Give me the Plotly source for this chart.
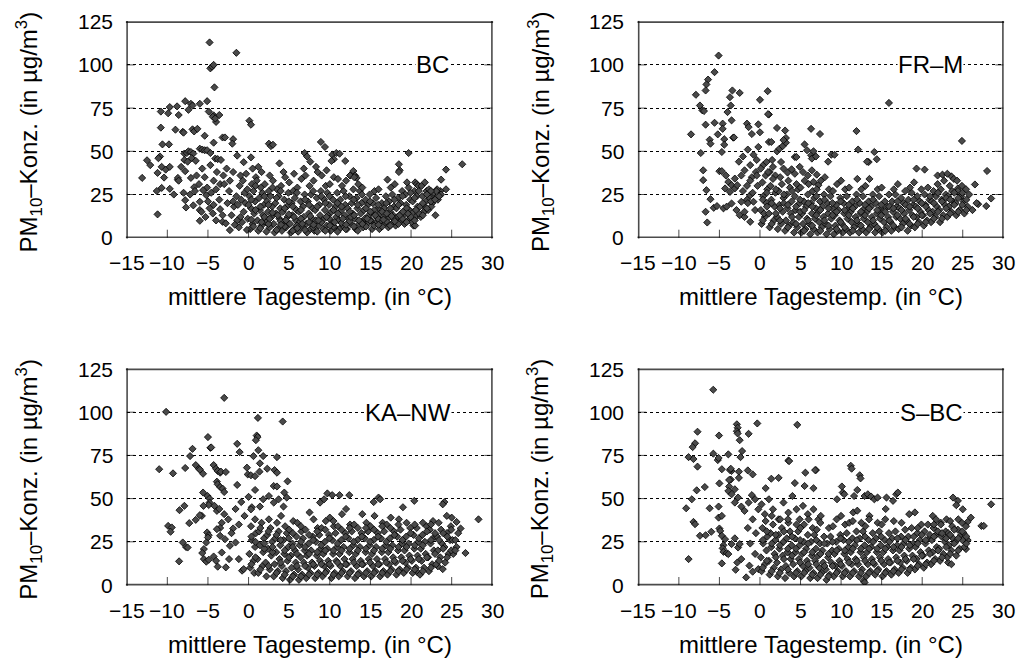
import plotly.graph_objects as go

# ---------------- data (temperature in °C, PM10 in µg/m3) ----------------
BC_POINTS = [
    (-4.8,113),(-1.5,107),(-4.7,98),(-4.5,99),(-4.3,100),(-4.2,87),
    (-7.8,79),(-9.7,75.6),(-8.8,76),(-10.8,73),(-9.9,72),(-8.6,71),(-7.4,74),(-7.1,77.5),(-6.9,76.5),(-6.0,77.5),
    (-5.1,79),(-4.9,73),(-4.3,70.8),(-4.4,70),(-4.0,67),(-4.1,69),(-3.6,71),
    (-10.8,63.7),(-9.0,62.5),(-8.1,61.3),(-8.0,60.8),(-6.9,62.7),(-6.7,61.5),(-6.3,63),(-5.4,59),(-4.3,55),(-3.2,58),
    (-2.9,58),(-1.9,57),(-2.0,54.4),(0.1,67.7),(0.3,65.4),(2.5,54.4),(2.75,53),(3.0,53.8),
    (-10.6,54),(-9.8,54),(-12.5,44.8),(-12.1,42),(-13.1,34.6),(-10.9,47),(-11.1,46),(-10.7,41),(-11.2,37.5),(-10.4,34.8),
    (-10.2,39.4),(-9.7,41),(-11.3,27),(-10.7,28.8),(-9.7,28.3),(-11.2,13.5),(-8.7,33.6),(-8.7,34.6),(-7.9,48.7),(-7.6,49),
    (-7.4,50),(-7.1,49.6),(-6.8,48.7),
    (-8.6,33),(-7.8,38.5),(-8.3,41),(-7.1,34.6),(-6.7,29.2),(-6.4,36),(-6.1,31),(-5.7,40),(-5.4,35),(-5.1,29),
    (-4.7,42),(-4.3,33),(-3.9,38),(-3.5,31),(-3.1,36),(-2.7,40),(-2.3,33),(-1.9,38),(-1.4,47.5),(-1.0,36),
    (-0.6,43.7),(0.3,46.5),(-7.9,45),(-7.5,44),(-7.0,46),(-6.5,44.5),(-6.0,51.5),(-5.7,51),(-5.4,50.6),(-5.1,50.6),
    (-4.7,49),(-4.1,45.8),(-3.8,45.5),(-3.4,45),
    (-7.8,21.7),(-7.7,17.5),(-7.2,25),(-6.0,20.8),(-6.0,16),(-5.8,15),(-6.0,9.8),(-5.2,24.6),(-4.8,17),(-4.4,14),
    (-4.0,10),(-3.2,13),(-3.2,9.2),(-2.3,4.4),(-2.8,8.3),(-9.2,25),(-8.0,26),(-6.6,27),(-5.6,27.5),(-4.6,26),
    (-4.0,28),(-3.6,22),(-3.0,31),(-2.6,20),(-2.4,27),(-5.0,21),(-4.3,19),(-3.5,16.5),(-6.8,18.7),(-5.3,12),
    (-2.1,13),(-1.8,18),(-1.5,24),
    (8.9,55.4),(9.4,52.5),(6.9,49),(10.3,48),(10.8,49),(11.2,48.6),(10.5,45.4),(10.2,44.4),(11.9,44.4),(19.7,49),
    (18.5,42.5),(18.6,39),(18.5,38),(26.3,42.5),(24.3,39.4),(23.7,33.6),(24.3,28),(23.6,27),(23.0,13),(22.6,24.6),
    (21.8,17.3),(21.6,15),(20.3,7),(23.2,28),(20.5,32),(20.7,31),(20.9,30),(17.1,33.6),(12.9,38.6),(13.1,36),
    (12.5,36),(13.3,34.6),
    (-1.2,6),(-0.8,9),(-1.0,12),(-0.6,15),(-1.3,19),(-0.9,22),(-0.5,26),(-1.1,30),(-0.7,33),(-0.3,37),(-1.4,10),(-0.4,20),
    (0.2,5),(0.5,8),(-0.1,11),(0.7,14),(0.3,17),(0.8,21),(0.1,24),(0.6,27),(0.4,31),(0.9,35),(0.0,19),(0.5,40),
    (1.2,4),(1.6,7),(1.1,10),(1.8,13),(1.4,16),(1.9,19),(1.3,23),(1.7,26),(1.5,29),(1.0,33),(1.6,38),(1.2,41),
    (2.2,3.5),(2.6,6),(2.1,9),(2.8,12),(2.4,15),(2.9,18),(2.3,21),(2.7,24),(2.5,27),(2.0,31),(2.6,36),
    (3.2,3),(3.6,5),(3.1,8),(3.8,11),(3.4,14),(3.9,17),(3.3,20),(3.7,24),(3.5,28),(3.0,33),(3.8,43),
    (4.1,4),(4.6,6),(4.3,9),(4.8,12),(4.2,15),(4.7,18),(4.4,22),(4.9,26),(4.0,30),(4.5,35),(4.3,38),
    (5.2,3),(5.6,5),(5.1,8),(5.8,10),(5.4,13),(5.9,16),(5.3,20),(5.7,23),(5.5,27),(5.0,32),(5.6,37),
    (6.1,3.5),(6.6,6),(6.3,9),(6.8,12),(6.2,15),(6.7,18),(6.4,21),(6.9,25),(6.0,29),(6.5,34),(6.8,40),
    (7.2,3),(7.6,5),(7.1,8),(7.8,11),(7.4,14),(7.9,17),(7.3,21),(7.7,25),(7.5,30),(7.0,36),(7.2,47),(7.6,44),
    (8.1,4),(8.6,7),(8.3,10),(8.8,13),(8.2,16),(8.7,19),(8.4,23),(8.9,27),(8.0,33),(8.5,38),(8.3,41),
    (9.2,5),(9.6,7),(9.1,10),(9.8,13),(9.4,16),(9.9,19),(9.3,22),(9.7,26),(9.5,30),(9.0,36),(9.6,39),
    (10.1,4),(10.6,6),(10.3,9),(10.8,12),(10.2,15),(10.7,18),(10.4,22),(10.9,26),(10.0,31),(10.5,35),
    (11.2,5),(11.6,7),(11.1,10),(11.8,13),(11.4,16),(11.9,19),(11.3,22),(11.7,27),(11.5,30),(11.0,34),
    (12.1,5),(12.6,8),(12.3,11),(12.8,14),(12.2,17),(12.7,20),(12.4,24),(12.9,28),(12.0,33),(12.5,36),
    (13.2,5),(13.6,8),(13.1,11),(13.8,14),(13.4,17),(13.9,20),(13.3,23),(13.7,27),(13.5,31),(13.0,35),
    (14.1,6),(14.6,8),(14.3,11),(14.8,13),(14.2,16),(14.7,19),(14.4,22),(14.9,25),(14.0,29),
    (15.2,5),(15.6,8),(15.1,10),(15.8,12),(15.4,14),(15.9,17),(15.3,20),(15.7,23),(15.5,27),
    (16.1,5),(16.6,8),(16.3,10),(16.8,12),(16.2,14),(16.7,17),(16.4,20),(16.9,24),(16.0,28),
    (17.2,6),(17.6,8),(17.1,11),(17.8,13),(17.4,15),(17.9,18),(17.3,21),(17.7,25),(17.5,29),
    (18.1,7),(18.6,9),(18.3,12),(18.8,14),(18.2,17),(18.7,20),(18.4,23),(18.9,27),(18.0,31),
    (19.2,8),(19.6,10),(19.1,13),(19.8,16),(19.4,19),(19.9,22),(19.3,25),(19.7,29),(19.5,32),
    (20.1,9),(20.6,12),(20.3,15),(20.8,18),(20.2,21),(20.7,24),(20.4,27),(20.9,30),(20.5,7),
    (21.2,12),(21.6,15),(21.1,18),(21.8,21),(21.4,24),(21.9,27),(21.3,30),(21.7,32),
    (22.1,16),(22.6,20),(22.3,23),(22.8,26),(22.2,28),(22.5,18),
    (23.3,22),(23.7,25),(23.1,27),
    (-1.7,7.5),(-0.2,4.5),(0.35,10.5),(0.85,16),(1.45,5.5),(1.95,12),(2.45,8),(2.95,14.5),(3.45,4.5),(3.95,9.5),
    (4.45,6.5),(4.95,13.5),(5.45,4),(5.95,7),(6.45,11),(6.95,4.5),(7.45,9),(7.95,6),(8.45,3.5),(8.95,9),
    (9.45,4),(9.95,11),(10.45,6.5),(10.95,3.5),(11.45,8.5),(11.95,5),(12.45,9.5),(12.95,6.5),(13.45,4),(13.95,9),
    (14.45,6.5),(14.95,10),(15.45,7),(15.95,11),(16.45,6.5),(16.95,9.5),(17.45,7),(17.95,10.5),(18.45,8),(18.95,11),
    (19.45,9),(19.95,12),(20.45,10),(20.95,14),(21.45,13),(21.95,17),(22.45,21),
    (-1.9,21),(-0.15,28),(0.35,22),(0.85,30),(1.45,18),(1.95,24),(2.45,19),(2.95,29),(3.45,23),(3.95,27),
    (4.45,17),(4.95,21),(5.45,18),(5.95,26),(6.45,16),(6.95,22),(7.45,19),(7.95,27),(8.45,18),(8.95,24),
    (9.45,20),(9.95,24),(10.45,16),(10.95,20),(11.45,18),(11.95,24),(12.45,15),(12.95,22),(13.45,19),(13.95,25),
    (14.45,17),(14.95,21),(15.45,16),(15.95,19),(16.45,15),(16.95,20),(17.45,17),(17.95,22),(18.45,19),(18.95,24),
    (19.45,17),(19.95,26),(20.45,23),(20.95,27),(21.45,20),(21.95,25),(22.45,27),(23.45,24),(22.95,22),
    (0.6,6.5),(1.6,9),(2.6,11),(3.6,13),(4.6,10),(5.6,12),(6.6,8),(7.6,12.5),(8.6,10),(9.6,12),
    (10.6,9),(11.6,11),(12.6,12),(13.6,10),(14.6,11),(15.6,13),(16.6,10.5),(17.6,12.5),(18.6,13),(19.6,14),
    (20.6,16),(4.0,7.5),(6.0,5.5),(8.0,7.5),(10.0,7),(12.0,7.5),(14.0,8),(16.0,7.5),(18.0,9.5),(11.0,14),
    (13.0,13),(15.0,15),(17.0,14),(19.0,15),
]

FRM_POINTS = [
    (-5.1,105.4),(-5.6,95.8),(-6.4,91.5),(-6.6,88.7),(-6.7,85.2),(-7.9,82.7),(-7.4,76.5),(-7.1,73.7),(-6.9,73.3),(-8.5,59.8),
    (-7.3,49),(-6.7,65.4),(-6.2,56.7),(-6.1,54.4),(-5.6,66.5),(-5.2,59.8),(-3.4,85.2),(-3.7,81.3),(-3.6,76.5),(-4.0,72.7),
    (-3.5,67.9),(-2.5,83.8),(-3.3,57.9),(-3.2,58),(-4.6,66),(-4.6,63),(-4.4,57),(0.0,79.8),(0.95,84.8),(1.1,71.3),
    (1.0,71.5),(-1.6,66),(-1.4,64),(-1.0,60),(-0.2,65.6),(0.0,61),(2.1,63.5),(3.1,62),(3.2,57.7),(6.3,63),
    (7.4,60),(1.1,55.4),(1.4,55.4),(2.1,50),(2.4,51.5),(2.8,53),(3.2,55),(2.9,56.5),(4.3,46.7),(4.5,46.7),
    (5.5,54),(5.8,50.6),(6.3,47.7),(6.4,45.8),(6.6,50),(6.9,47),(-7.0,39),(-7.0,33.3),(-6.6,27.5),(-6.1,22.3),
    (-5.7,17.3),(-5.3,18.3),(-6.7,15),(-6.5,8.8),(-5.0,38.5),(-4.7,49.6),(-4.4,53.8),
    (15.9,78),(11.9,61.7),(12.1,51),(14.1,49.6),(14.4,45.4),(13.4,43.8),(13.2,44),(24.9,56),(28.0,38.6),(28.5,22.7),
    (26.5,30.8),(27.9,18.3),(26.9,19.4),(24.4,28.5),(19.3,40),(20.3,39.4),(8.8,48),(9.2,48),(8.4,44),(21.9,36),
    (22.5,36.5),(23.6,35.5),(23.1,37),
    (-4.7,38.5),(-4.2,36),(-3.9,32.3),(-3.5,30.4),(-3.1,34.2),(-4.5,17),(-4.1,18),(-3.5,19.8),(-2.9,16),(-2.5,13),
    (-1.9,12),(-4.3,28.5),(-3.7,26.5),(-3.1,28.5),(-2.8,30.4),(-2.6,44),(-2.3,36),(-2.1,47),(-1.9,39),(-1.5,51),
    (-1.2,42),(-0.8,48),(-0.5,38),(-0.2,52.5),(-0.4,45),(-1.0,35),(-1.6,30),(-2.1,27),(-1.6,22),(-1.2,24.6),
    (-0.8,20.8),(-0.6,16),(-1.2,9.2),(-1.9,15),(-2.3,20.8),
    (0.4,42),(0.8,43.8),(1.2,38),(1.6,41),(1.9,36),(2.6,43.8),(2.9,40),(3.4,37.7),(3.9,39.6),(4.3,37),
    (4.9,41),(5.3,38),(5.9,36),(6.4,39),(7.0,36.5),(6.6,32.3),(7.2,30.4),
    (0.2,8),(0.6,12),(0.1,16),(0.8,20),(0.4,24),(0.9,28),(0.3,32),(0.7,36),(0.5,14),
    (1.2,6),(1.7,10),(1.1,14),(1.8,18),(1.4,22),(1.9,26),(1.3,30),(1.6,34),
    (2.2,5),(2.6,8),(2.1,12),(2.8,15),(2.4,19),(2.9,23),(2.3,27),(2.7,31),(2.5,35),
    (3.1,4),(3.6,7),(3.2,10),(3.8,14),(3.4,17),(3.9,21),(3.3,25),(3.7,29),(3.5,33),
    (4.2,3),(4.6,6),(4.1,9),(4.8,12),(4.4,16),(4.9,20),(4.3,24),(4.7,28),(4.5,31),
    (5.1,3),(5.6,5),(5.3,8),(5.8,11),(5.2,14),(5.7,18),(5.4,21),(5.9,25),(5.0,29),(5.5,33),
    (6.2,2),(6.6,5),(6.1,8),(6.8,11),(6.4,14),(6.9,17),(6.3,20),(6.7,23),(6.5,27),(6.0,31),
    (7.1,3),(7.6,6),(7.3,9),(7.8,12),(7.2,15),(7.7,18),(7.4,21),(7.9,25),(7.0,28),(7.5,33),
    (8.2,2),(8.6,5),(8.1,8),(8.8,11),(8.4,14),(8.9,17),(8.3,20),(8.7,24),(8.5,28),(8.0,35),
    (9.1,2),(9.6,4),(9.3,7),(9.8,10),(9.2,13),(9.7,16),(9.4,19),(9.9,23),(9.0,27),(9.5,31),
    (10.2,3),(10.6,5),(10.1,8),(10.8,11),(10.4,14),(10.9,17),(10.3,20),(10.7,24),(10.5,28),(10.0,33),
    (11.1,3),(11.6,6),(11.3,9),(11.8,12),(11.2,15),(11.7,18),(11.4,21),(11.9,25),(11.0,29),
    (12.2,3),(12.6,5),(12.1,8),(12.8,11),(12.4,14),(12.9,17),(12.3,20),(12.7,24),(12.5,28),(12.0,34),
    (13.1,3),(13.6,6),(13.3,9),(13.8,12),(13.2,15),(13.7,18),(13.4,21),(13.9,25),(13.0,30),(13.5,34),
    (14.2,3),(14.6,5),(14.1,8),(14.8,11),(14.4,14),(14.9,17),(14.3,20),(14.7,24),(14.5,28),
    (15.1,3),(15.6,6),(15.3,9),(15.8,12),(15.2,15),(15.7,18),(15.4,21),(15.9,25),(15.0,29),
    (16.2,4),(16.6,6),(16.1,9),(16.8,12),(16.4,15),(16.9,18),(16.3,21),(16.7,25),(16.5,28),
    (17.1,5),(17.6,8),(17.3,11),(17.8,14),(17.2,17),(17.7,20),(17.4,23),(17.9,27),(17.0,31),
    (18.2,4),(18.6,7),(18.1,10),(18.8,13),(18.4,16),(18.9,19),(18.3,22),(18.7,26),(18.5,29),
    (19.1,6),(19.6,9),(19.3,12),(19.8,15),(19.2,18),(19.7,21),(19.4,24),(19.9,28),(19.0,32),
    (20.2,7),(20.6,10),(20.1,13),(20.8,16),(20.4,19),(20.9,22),(20.3,25),(20.7,29),
    (21.1,9),(21.6,12),(21.3,15),(21.8,18),(21.2,21),(21.7,24),(21.4,27),(21.9,31),
    (22.2,9),(22.6,13),(22.1,16),(22.8,19),(22.4,22),(22.9,25),(22.3,28),(22.7,33),
    (23.1,12),(23.6,15),(23.3,18),(23.8,21),(23.2,24),(23.7,27),(23.4,30),(23.9,34),
    (24.2,13),(24.6,16),(24.1,20),(24.8,24),(24.4,27),(24.9,30),(24.3,33),
    (25.2,14),(25.6,18),(25.1,21),(25.8,25),(25.4,28),
    (26.2,16),(26.7,20),
    (0.35,10),(0.85,18),(1.45,8),(1.95,14),(2.45,10),(2.95,20),(3.45,6),(3.95,12),(4.45,8),(4.95,15),
    (5.45,4),(5.95,10),(6.45,7),(6.95,13),(7.45,4),(7.95,10),(8.45,7),(8.95,13),(9.45,5),(9.95,9),
    (10.45,6),(10.95,13),(11.45,4),(11.95,10),(12.45,7),(12.95,13),(13.45,5),(13.95,10),(14.45,6),(14.95,13),
    (15.45,4),(15.95,10),(16.45,7),(16.95,13),(17.45,6),(17.95,11),(18.45,8),(18.95,12),(19.45,8),(19.95,13),
    (20.45,9),(20.95,14),(21.45,11),(21.95,15),(22.45,11),(22.95,17),(23.45,14),(23.95,19),(24.45,15),(24.95,19),
    (25.45,16),
    (0.35,22),(0.85,26),(1.45,20),(1.95,28),(2.45,17),(2.95,25),(3.45,19),(3.95,27),(4.45,18),(4.95,22),
    (5.45,16),(5.95,20),(6.45,18),(6.95,24),(7.45,16),(7.95,22),(8.45,17),(8.95,20),(9.45,15),(9.95,21),
    (10.45,16),(10.95,19),(11.45,17),(11.95,22),(12.45,15),(12.95,19),(13.45,17),(13.95,22),(14.45,16),(14.95,19),
    (15.45,15),(15.95,18),(16.45,17),(16.95,21),(17.45,16),(17.95,19),(18.45,18),(18.95,22),(19.45,17),(19.95,20),
    (20.45,18),(20.95,24),(21.45,20),(21.95,26),(22.45,21),(22.95,23),(23.45,22),(23.95,26),(24.45,23),(24.95,26),
    (25.45,22),
    (-1.5,20),(-0.9,26),(-0.3,30),(-1.2,33),(-0.4,36),(0.1,40),(1.5,45),(1.0,38),
]

KANW_POINTS = [
    (-3.0,108.3),(-10.15,100.2),(1.15,96.7),(4.2,94.6),(-5.0,85.6),(-4.7,79.4),(-4.6,79.6),(-6.9,78.8),(-7.2,74.6),(-1.4,81.7),
    (-1.1,76.9),(1.0,86.5),(1.1,85.6),(0.9,83.8),(1.2,78),(1.8,74.6),(0.6,74.6),(3.5,74),(-11.0,67),(-9.3,64.6),
    (-7.8,67.7),(-6.5,69.4),(-6.1,67.3),(-6.0,66.8),(-5.6,64.4),(-4.3,69.4),(-4.0,67.3),(-3.8,66),(-3.5,65),(-3.4,65.6),
    (-2.8,65.4),(-3.9,59.8),(-3.8,58.3),(-3.5,56.7),(-3.2,55.8),(-3.0,53.8),(-1.4,57.9),(-0.2,67.9),(-0.1,64),(0.3,63.5),
    (0.8,63),(1.4,70.4),(1.35,65.6),(2.3,67.3),(3.2,66.5),(3.5,65),(3.1,57.3),(3.5,57),(4.8,60),(-9.9,34.2),
    (-9.45,33.3),(-9.6,30.8),(-8.5,43.3),(-7.9,45.8),(-8.1,24.6),(-7.7,22),(-7.5,21.7),(-8.55,13.7),(-5.6,53.5),(-5.05,51.5),
    (-4.8,50),(-4.8,47.7),(-4.9,46.3),(-5.75,40),(-6.0,40.4),(-6.5,37.7),(-7.3,35.8),(-5.1,30.4),(-4.9,28.8),(-5.0,27.5),
    (-5.2,24.6),(-5.5,20.8),(-5.7,18.5),(-5.5,15),(-5.2,13.5),(-4.9,14.6),
    (9.7,53),(10.3,52),(11.2,52),(12.4,52),(9.3,49.6),(8.8,47.7),(16.0,50.6),(16.2,49.6),(15.4,48),(20.4,48.7),
    (24.1,48),(23.9,46.7),(28.3,38),(26.7,18.5),(26.1,32.7),(25.6,36.5),(25.0,39),(24.4,40),(23.3,10.8),(23.9,9.2),
    (20.8,7.3),
    (-4.3,16.5),(-4.0,14),(-3.8,10.6),(-2.8,10.2),(-3.3,18.8),(-2.4,15),(-2.3,22.7),(-1.9,32.7),(-1.2,15),(-0.8,8.3),
    (-0.6,9.2),(-4.2,45.8),(-3.9,42.9),(-3.6,44),(-3.3,36),(-3.0,41),(-3.5,33),(-3.9,32.3),(-3.5,28.5),(-2.9,26.5),
    (-2.5,38),(-2.1,30),(-1.6,44),(-1.2,35),(-0.9,48),(-0.5,40),(0.0,51),(0.4,45),(0.8,55),(0.3,43.8),
    (0.8,38),(1.4,45.4),(1.8,49.6),(2.5,51.5),(3.1,47.7),(3.7,49.6),(4.3,45.4),(4.7,50.6),(4.4,53.5),(-1.6,24.6),
    (-5.55,45.8),
    (0.2,10),(0.6,14),(0.1,18),(0.8,22),(0.4,26),(0.9,30),(0.3,34),(0.7,7),
    (1.2,7),(1.7,11),(1.1,15),(1.8,19),(1.4,23),(1.9,27),(1.3,31),(1.6,36),
    (2.2,5),(2.6,9),(2.1,13),(2.8,17),(2.4,21),(2.9,25),(2.3,29),(2.7,33),(2.5,38),
    (3.1,5),(3.6,8),(3.2,12),(3.8,15),(3.4,19),(3.9,23),(3.3,27),(3.7,31),(3.5,36),
    (4.2,4),(4.6,8),(4.1,11),(4.8,14),(4.4,18),(4.9,22),(4.3,26),(4.7,30),(4.5,34),(4.0,40),
    (5.1,3),(5.6,6),(5.3,10),(5.8,13),(5.2,17),(5.7,20),(5.4,24),(5.9,28),(5.0,32),(5.5,37),
    (6.2,3),(6.6,6),(6.1,9),(6.8,13),(6.4,16),(6.9,20),(6.3,23),(6.7,27),(6.5,31),(6.0,36),
    (7.1,4),(7.6,7),(7.3,10),(7.8,13),(7.2,17),(7.7,20),(7.4,24),(7.9,28),(7.0,32),(7.5,42),
    (8.2,4),(8.6,7),(8.1,11),(8.8,14),(8.4,17),(8.9,21),(8.3,25),(8.7,29),(8.5,33),(8.0,38),
    (9.1,5),(9.6,8),(9.3,11),(9.8,14),(9.2,18),(9.7,21),(9.4,25),(9.9,29),(9.0,33),(9.5,37),
    (10.2,4),(10.6,7),(10.1,11),(10.8,14),(10.4,18),(10.9,22),(10.3,26),(10.7,30),(10.5,34),(10.0,39),
    (11.1,5),(11.6,8),(11.3,11),(11.8,15),(11.2,18),(11.7,22),(11.4,26),(11.9,30),(11.0,34),(11.5,41),
    (12.2,5),(12.6,8),(12.1,12),(12.8,15),(12.4,19),(12.9,23),(12.3,27),(12.7,31),(12.5,35),(12.0,44),
    (13.1,4),(13.6,7),(13.3,11),(13.8,14),(13.2,18),(13.7,22),(13.4,26),(13.9,30),(13.0,35),
    (14.2,5),(14.6,8),(14.1,12),(14.8,15),(14.4,19),(14.9,23),(14.3,27),(14.7,31),(14.5,36),(14.0,41),
    (15.1,5),(15.6,8),(15.3,11),(15.8,15),(15.2,18),(15.7,22),(15.4,26),(15.9,30),(15.0,34),(15.5,40),
    (16.2,5),(16.6,8),(16.1,12),(16.8,15),(16.4,19),(16.9,23),(16.3,27),(16.7,31),(16.5,36),
    (17.1,6),(17.6,9),(17.3,12),(17.8,16),(17.2,19),(17.7,23),(17.4,27),(17.9,31),(17.0,35),(17.5,39),
    (18.2,6),(18.6,9),(18.1,13),(18.8,16),(18.4,20),(18.9,24),(18.3,28),(18.7,32),(18.5,38),
    (19.1,7),(19.6,10),(19.3,13),(19.8,17),(19.2,20),(19.7,24),(19.4,28),(19.9,33),(19.0,45),
    (20.2,7),(20.6,10),(20.1,14),(20.8,17),(20.4,21),(20.9,25),(20.3,29),(20.7,33),
    (21.1,6),(21.6,10),(21.3,14),(21.8,18),(21.2,21),(21.7,25),(21.4,29),(21.9,34),
    (22.2,8),(22.6,12),(22.1,16),(22.8,20),(22.4,24),(22.9,28),(22.3,32),(22.7,37),
    (23.1,12),(23.6,16),(23.3,20),(23.8,24),(23.2,28),(23.7,32),(23.4,36),
    (24.2,13),(24.6,18),(24.1,22),(24.8,26),(24.4,30),(24.9,34),
    (25.2,18),(25.6,22),(25.1,26),(25.8,30),
    (0.35,12),(0.85,16),(1.45,9),(1.95,21),(2.45,11),(2.95,19),(3.45,7),(3.95,13),(4.45,6),(4.95,16),
    (5.45,5),(5.95,11),(6.45,5),(6.95,11),(7.45,6),(7.95,12),(8.45,6),(8.95,12),(9.45,7),(9.95,12),
    (10.45,6),(10.95,13),(11.45,7),(11.95,12),(12.45,7),(12.95,13),(13.45,6),(13.95,12),(14.45,7),(14.95,13),
    (15.45,7),(15.95,12),(16.45,7),(16.95,13),(17.45,8),(17.95,14),(18.45,8),(18.95,14),(19.45,9),(19.95,15),
    (20.45,9),(20.95,15),(21.45,8),(21.95,16),(22.45,10),(22.95,18),(23.45,14),(23.95,21),(24.45,16),(24.95,20),
    (25.45,20),
    (0.35,28),(0.85,25),(1.45,33),(1.95,24),(2.45,31),(2.95,22),(3.45,29),(3.95,26),(4.45,20),(4.95,27),
    (5.45,22),(5.95,18),(6.45,25),(6.95,22),(7.45,18),(7.95,26),(8.45,19),(8.95,23),(9.45,20),(9.95,27),
    (10.45,20),(10.95,24),(11.45,20),(11.95,28),(12.45,21),(12.95,25),(13.45,20),(13.95,28),(14.45,21),(14.95,25),
    (15.45,20),(15.95,28),(16.45,21),(16.95,25),(17.45,21),(17.95,29),(18.45,22),(18.95,26),(19.45,22),(19.95,30),
    (20.45,23),(20.95,27),(21.45,23),(21.95,31),(22.45,26),(22.95,30),(23.45,26),(23.95,30),(24.45,28),(24.95,32),
    (25.45,26),
    (5.45,30),(6.45,34),(7.45,29),(8.45,31),(9.45,32),(10.45,37),(11.45,32),(12.45,33),(13.45,33),(14.45,33),
    (15.45,32),(16.45,34),(17.45,33),(18.45,35),(19.45,36),(20.45,35),(21.45,36),(22.45,35),
]

SBC_POINTS = [
    (-5.76,113),(-0.33,93.5),(4.6,92.7),(-2.85,93),(-2.75,91),(-2.85,89),(-2.75,87.7),(-2.5,83.8),(-7.7,88.7),(-5.05,86.5),
    (-1.4,87.5),(-8.0,82),(-8.3,79.8),(-8.8,74),(-8.2,72.9),(-7.7,68.5),(-5.75,76),(-5.2,72.3),(-5.1,73.5),(-3.9,75.6),
    (-2.2,77.5),(-2.4,74),(-3.5,66),(-3.7,66.5),(-4.7,67),(-3.6,67.3),(-3.6,61),(-3.8,60.8),(-5.0,58.8),(-3.8,57),
    (-3.1,55.4),(-2.6,65.6),(-2.6,62),(-1.5,66.3),(-0.9,64),(-9.1,44.4),(-8.4,49.6),(-7.8,54.8),(-6.8,56.7),(-8.2,36.5),
    (-8.0,35.2),(-7.4,28.5),(-6.7,28.8),(-6.0,30.8),(-8.8,15),(0.7,56),(1.4,61.5),(2.3,62),(3.5,72),(3.6,71.7),
    (5.6,65),(6.9,66.5),(4.3,59),(5.5,57.3),(6.6,56),
    (11.2,69),(11.3,67.3),(12.3,63.5),(12.4,61.7),(6.8,66.5),(10.1,57),(12.0,55),(23.8,50.6),(24.4,48.7),(24.2,46.2),
    (25.0,43.8),(28.5,46.7),(27.3,34.2),(27.6,34.2),(26.0,39),(25.6,36.5),(23.2,13),(23.6,12),(25.4,20.8),(12.75,2.5),
    (12.9,1.5),
    (-6.2,44.4),(-5.1,45.4),(-5.1,39),(-4.7,40),(-5.0,32.7),(-4.9,31.3),(-4.7,28.5),(-4.3,26.5),(-4.5,23),(-4.6,21.2),
    (-4.5,19.2),(-4.1,18.5),(-3.9,17.9),(-3.5,23.7),(-3.1,27),(-2.7,21.7),(-2.5,23.7),(-2.8,13),(-4.7,12.5),(-3.0,8.8),
    (-1.7,4.4),(-2.3,15),(-1.3,11.2),(-0.9,7.7),(-0.2,9.2),
    (-3.9,54.4),(-3.5,52.5),(-3.1,47.7),(-2.7,50.6),(-2.3,45.4),(-1.9,42.9),(-1.4,47.7),(-1.0,52),(-0.6,49.6),(-0.2,43.8),
    (0.2,46.7),(0.6,41),(1.1,49.6),(1.6,43.8),(2.3,38),(2.9,47.7),(3.5,41.9),(4.0,51.5),(4.5,43.8),(4.9,38),
    (5.3,45.8),(5.9,41),(6.6,43.8),(7.2,38),
    (10.2,53.5),(10.4,52.5),(9.5,49.6),(11.6,51.5),(12.9,51.5),(13.3,52.5),(13.7,51.2),(14.1,49.6),(15.6,50.6),(16.4,48.7),
    (16.8,52.5),(17.0,53.5),(14.5,50.6),(18.4,41),(19.1,42),(21.3,40),(21.7,38),(22.3,36),(23.0,38),
    (0.2,8),(0.6,12),(0.1,16),(0.8,20),(0.4,24),(0.9,28),(0.3,33),(0.7,37),
    (1.2,6),(1.7,10),(1.1,14),(1.8,18),(1.4,22),(1.9,26),(1.3,30),(1.6,35),
    (2.2,5),(2.6,9),(2.1,13),(2.8,17),(2.4,21),(2.9,25),(2.3,29),(2.7,33),(2.5,38),
    (3.1,4),(3.6,7),(3.2,11),(3.8,15),(3.4,19),(3.9,23),(3.3,27),(3.7,31),(3.5,36),
    (4.2,5),(4.6,8),(4.1,12),(4.8,15),(4.4,19),(4.9,23),(4.3,27),(4.7,31),(4.5,35),
    (5.1,5),(5.6,8),(5.3,11),(5.8,14),(5.2,18),(5.7,21),(5.4,25),(5.9,29),(5.0,33),
    (6.2,4),(6.6,7),(6.1,10),(6.8,14),(6.4,17),(6.9,21),(6.3,25),(6.7,29),(6.5,33),(6.0,38),
    (7.1,4),(7.6,7),(7.3,10),(7.8,13),(7.2,17),(7.7,20),(7.4,24),(7.9,28),(7.0,32),(7.5,40),
    (8.2,3),(8.6,6),(8.1,9),(8.8,13),(8.4,16),(8.9,20),(8.3,24),(8.7,28),(8.5,33),
    (9.1,5),(9.6,8),(9.3,11),(9.8,14),(9.2,18),(9.7,21),(9.4,25),(9.9,29),(9.0,34),
    (10.2,5),(10.6,8),(10.1,11),(10.8,15),(10.4,18),(10.9,22),(10.3,26),(10.7,30),(10.5,35),(10.0,40),
    (11.1,5),(11.6,8),(11.3,12),(11.8,15),(11.2,19),(11.7,23),(11.4,27),(11.9,31),(11.0,36),(11.5,42),
    (12.2,5),(12.6,9),(12.1,12),(12.8,16),(12.4,19),(12.9,23),(12.3,27),(12.7,31),(12.5,36),(12.0,43),
    (13.1,5),(13.6,8),(13.3,12),(13.8,15),(13.2,19),(13.7,22),(13.4,26),(13.9,30),(13.0,34),(13.5,40),
    (14.2,6),(14.6,9),(14.1,12),(14.8,16),(14.4,19),(14.9,23),(14.3,27),(14.7,31),(14.5,36),
    (15.1,5),(15.6,8),(15.3,12),(15.8,15),(15.2,19),(15.7,22),(15.4,26),(15.9,30),(15.0,35),(15.5,44),
    (16.2,6),(16.6,9),(16.1,13),(16.8,16),(16.4,20),(16.9,23),(16.3,27),(16.7,31),(16.5,37),
    (17.1,7),(17.6,10),(17.3,13),(17.8,17),(17.2,20),(17.7,24),(17.4,28),(17.9,32),
    (18.2,7),(18.6,10),(18.1,14),(18.8,17),(18.4,21),(18.9,24),(18.3,28),(18.7,33),
    (19.1,9),(19.6,12),(19.3,15),(19.8,19),(19.2,22),(19.7,26),(19.4,30),(19.9,35),
    (20.2,10),(20.6,13),(20.1,17),(20.8,20),(20.4,24),(20.9,27),(20.3,31),(20.7,35),
    (21.1,12),(21.6,15),(21.3,19),(21.8,22),(21.2,26),(21.7,29),(21.4,33),
    (22.2,14),(22.6,18),(22.1,21),(22.8,25),(22.4,28),(22.9,31),(22.3,35),
    (23.1,16),(23.6,20),(23.3,23),(23.8,27),(23.2,30),(23.7,34),
    (24.2,17),(24.6,21),(24.1,25),(24.8,29),(24.4,32),(24.9,36),
    (25.2,22),(25.6,26),(25.1,30),(25.4,34),
    (0.35,10),(0.85,14),(1.45,8),(1.95,16),(2.45,7),(2.95,15),(3.45,9),(3.95,17),(4.45,7),(4.95,13),
    (5.45,7),(5.95,12),(6.45,6),(6.95,12),(7.45,6),(7.95,11),(8.45,5),(8.95,11),(9.45,7),(9.95,12),
    (10.45,7),(10.95,13),(11.45,7),(11.95,14),(12.45,7),(12.95,14),(13.45,7),(13.95,13),(14.45,8),(14.95,14),
    (15.45,7),(15.95,13),(16.45,8),(16.95,14),(17.45,9),(17.95,15),(18.45,9),(18.95,15),(19.45,11),(19.95,17),
    (20.45,12),(20.95,18),(21.45,14),(21.95,20),(22.45,16),(22.95,22),(23.45,18),(23.95,24),(24.45,20),(24.95,26),
    (25.45,24),
    (0.35,26),(0.85,31),(1.45,24),(1.95,29),(2.45,23),(2.95,31),(3.45,21),(3.95,28),(4.45,21),(4.95,26),
    (5.45,19),(5.95,24),(6.45,19),(6.95,26),(7.45,18),(7.95,24),(8.45,18),(8.95,25),(9.45,20),(9.95,27),
    (10.45,20),(10.95,25),(11.45,21),(11.95,26),(12.45,21),(12.95,28),(13.45,21),(13.95,25),(14.45,21),(14.95,28),
    (15.45,21),(15.95,25),(16.45,22),(16.95,27),(17.45,22),(17.95,26),(18.45,23),(18.95,28),(19.45,24),(19.95,29),
    (20.45,26),(20.95,29),(21.45,28),(21.95,31),(22.45,30),(22.95,27),(23.45,29),(23.95,32),(24.45,27),(24.95,31),
    (25.45,28),
    (1.45,40),(3.45,38),(5.45,35),(7.45,36),(9.45,38),(11.45,37),(13.45,38),(15.45,38),(17.45,36),(19.45,33),
    (21.45,35),(23.45,37),(24.45,38),(-0.5,30),(-0.9,38),(-1.2,24),(-0.6,18),(-1.5,33),
]

STATIONS = ["BC", "FR\u2013M", "KA\u2013NW", "S\u2013BC"]
X_TICKS = [-15, -10, -5, 0, 5, 10, 15, 20, 25, 30]
Y_TICKS = [0, 25, 50, 75, 100, 125]
X_RANGE = [-15, 30]
Y_RANGE = [0, 125]
X_TITLE = "mittlere Tagestemp. (in °C)"
Y_TITLE = "PM<sub>10</sub>\u2013Konz. (in µg/m<sup>3</sup>)"

# ---------------- layout ----------------
W, H = 1023, 661
FONT = "Liberation Sans, Arial, Helvetica, sans-serif"
TICK_PX = 8
LINE_SYMBOL_SCALE = 1.4   # plotly's line-ew / line-ns symbols are 1.4 x marker size long
FRAME_W = 1.6
EDGE_INSET_PX = 0.4       # keep frame markers just inside the axis range
panels = [
    # (points, x0px, x1px, y0px(top), y1px(bottom), label x, label y)
    (BC_POINTS, 126.7, 492.3, 21.7, 237.7, 22.7, 100),
    (FRM_POINTS, 638.3, 1003.3, 21.7, 237.7, 21.0, 100),
    (KANW_POINTS, 126.7, 492.3, 369.0, 585.0, 19.6, 100),
    (SBC_POINTS, 638.3, 1003.3, 369.0, 585.0, 21.1, 100),
]


def tick_text(v):
    return ("\u2212" + str(-v)) if v < 0 else str(v)


fig = go.Figure()
annotations = []
for i, (pts, x0, x1, y0, y1, lx, ly) in enumerate(panels):
    n = "" if i == 0 else str(i + 1)
    xr, yr = "x" + n, "y" + n
    temps = [p[0] for p in pts]
    pm = [p[1] for p in pts]
    fig.add_trace(go.Scatter(
        x=temps, y=pm, mode="markers", xaxis=xr, yaxis=yr,
        marker=dict(symbol="diamond", size=5.5, color="#4a4a4a",
                    line=dict(width=0.8, color="#000000")),
        showlegend=False, hoverinfo="x+y"))

    # frame and inward ticks, drawn with line-shaped markers
    wpx, hpx = x1 - x0, y1 - y0
    ux = (X_RANGE[1] - X_RANGE[0]) / wpx
    uy = (Y_RANGE[1] - Y_RANGE[0]) / hpx
    ex, ey = EDGE_INSET_PX * ux, EDGE_INSET_PX * uy
    xm = (X_RANGE[0] + X_RANGE[1]) / 2
    ym = (Y_RANGE[0] + Y_RANGE[1]) / 2
    fx = [xm, xm, X_RANGE[0] + ex, X_RANGE[1] - ex]
    fy = [Y_RANGE[0] + ey, Y_RANGE[1] - ey, ym, ym]
    fsym = ["line-ew", "line-ew", "line-ns", "line-ns"]
    fsize = [(wpx + FRAME_W) / LINE_SYMBOL_SCALE] * 2 + [(hpx + FRAME_W) / LINE_SYMBOL_SCALE] * 2
    fw = [FRAME_W] * 4
    for t in X_TICKS[1:-1]:
        fx.append(t); fy.append(Y_RANGE[0] + TICK_PX / 2 * uy)
        fsym.append("line-ns"); fsize.append(TICK_PX / LINE_SYMBOL_SCALE); fw.append(1)
    for v in Y_TICKS[1:-1]:
        fx += [X_RANGE[0] + TICK_PX / 2 * ux, X_RANGE[1] - TICK_PX / 2 * ux]
        fy += [v, v]
        fsym += ["line-ew", "line-ew"]
        fsize += [TICK_PX / LINE_SYMBOL_SCALE] * 2
        fw += [1, 1]
    fig.add_trace(go.Scatter(
        x=fx, y=fy, mode="markers", xaxis=xr, yaxis=yr,
        marker=dict(symbol=fsym, size=fsize, color="black",
                    line=dict(width=fw, color="black")),
        showlegend=False, hoverinfo="skip", cliponaxis=False))

    xd = [x0 / W, x1 / W]
    yd = [1 - y1 / H, 1 - y0 / H]
    fig.layout["xaxis" + n] = dict(
        domain=xd, range=X_RANGE, anchor=yr, tickvals=X_TICKS,
        ticks="", showline=False, showgrid=False, zeroline=False,
        showticklabels=False, automargin=False)
    fig.layout["yaxis" + n] = dict(
        domain=yd, range=Y_RANGE, anchor=xr, tickvals=Y_TICKS,
        ticks="", showline=False,
        showgrid=True, gridcolor="black", gridwidth=1, griddash="dot",
        zeroline=False, showticklabels=False, automargin=False)
    # tick labels
    for t in X_TICKS:
        annotations.append(dict(
            x=t, y=Y_RANGE[0], xref=xr, yref=yr, text=tick_text(t), showarrow=False,
            xanchor="center", yanchor="middle", yshift=-25,
            font=dict(family=FONT, size=21, color="black")))
    for v in Y_TICKS:
        annotations.append(dict(
            x=X_RANGE[0], y=v, xref=xr, yref=yr, text=tick_text(v), showarrow=False,
            xanchor="right", yanchor="middle", xshift=-12,
            font=dict(family=FONT, size=21, color="black")))
    # station label
    annotations.append(dict(
        x=lx, y=ly, xref=xr, yref=yr, text=STATIONS[i], showarrow=False,
        font=dict(family=FONT, size=24, color="black"), bgcolor="white",
        xanchor="center", yanchor="middle", borderpad=0))
    # x title
    annotations.append(dict(
        x=(x0 + x1) / 2 / W, y=1 - (297 if i < 2 else 644.3) / H,
        xref="paper", yref="paper", text=X_TITLE, showarrow=False,
        font=dict(family=FONT, size=24, color="black"), xanchor="center", yanchor="middle"))
    # y title
    annotations.append(dict(
        x=(x0 - 98) / W, y=1 - ((y0 + y1) / 2 + 2) / H,
        xref="paper", yref="paper", text=Y_TITLE, showarrow=False, textangle=-90,
        font=dict(family=FONT, size=24, color="black"), xanchor="center", yanchor="middle"))

fig.update_layout(
    template="none",
    width=W, height=H,
    margin=dict(l=0, r=0, t=0, b=0, pad=0, autoexpand=False),
    paper_bgcolor="white", plot_bgcolor="white",
    annotations=annotations,
)
fig.write_html("out.html")
